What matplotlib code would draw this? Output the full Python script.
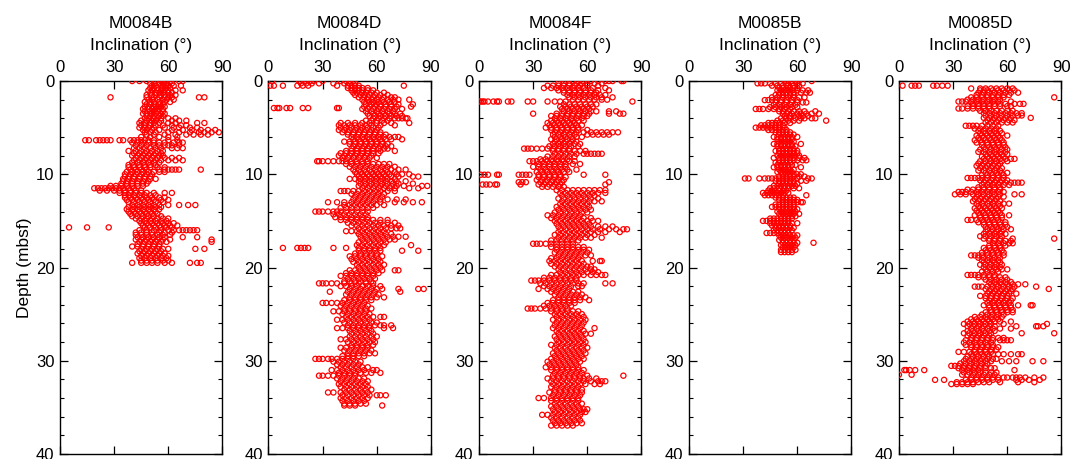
import matplotlib
matplotlib.use("Agg")
import matplotlib.pyplot as plt
from matplotlib.ticker import MultipleLocator

plt.rcParams["font.family"] = ["Liberation Sans", "DejaVu Sans"]

# ---------------------------------------------------------------------------
# Paleomagnetic inclination (degrees) versus depth (mbsf) for five holes.
# Each depth level carries the list of inclinations measured around it.
# ---------------------------------------------------------------------------

holes = ["M0084B", "M0084D", "M0084F", "M0085B", "M0085D"]

depth_84B = [0.0, 0.25, 0.5, 0.75, 1.0, 1.25, 1.5, 1.75, 2.0, 2.25, 2.5, 2.75,
             3.0, 3.25, 3.5, 3.75, 4.0, 4.25, 4.5, 4.75, 5.0, 5.25, 5.5, 5.75,
             6.0, 6.35, 6.6, 6.9, 7.2, 7.5, 7.75, 8.0, 8.25, 8.5, 8.75, 9.0,
             9.25, 9.5, 9.75, 10.0, 10.25, 10.5, 10.75, 11.0, 11.25, 11.5,
             11.75, 12.0, 12.25, 12.5, 12.75, 13.0, 13.3, 13.5, 13.75, 14.0,
             14.25, 14.5, 14.75, 15.0, 15.25, 15.5, 15.7, 16.0, 16.25, 16.5,
             16.75, 17.0, 17.25, 17.5, 17.75, 18.0, 18.25, 18.5, 18.75, 19.0,
             19.25, 19.5]
incl_84B = [
    [40, 44, 48, 53, 56, 58, 61, 66, 68], [50, 52, 55, 57, 59, 62],
    [51, 53, 56, 58, 60, 63, 67], [50, 52, 54, 57, 59, 61],
    [49, 51, 54, 56, 58, 60, 64, 68], [50, 53, 55, 57, 60, 62],
    [48, 51, 53, 56, 58, 61, 64], [28, 48, 52, 55, 58, 60, 62, 77, 80],
    [49, 51, 54, 57, 59, 63], [47, 50, 52, 55, 58, 61],
    [48, 50, 53, 55, 57], [47, 49, 52, 54, 56, 58],
    [46, 49, 51, 53, 55, 57], [47, 50, 52, 54, 57],
    [46, 48, 51, 53, 56, 58], [48, 50, 52, 55, 57],
    [47, 49, 52, 54, 56, 60, 64], [45, 48, 51, 53, 56, 62, 66, 70],
    [44, 47, 50, 52, 55, 60, 64, 76, 80], [45, 47, 50, 53, 57, 62, 67, 70],
    [44, 47, 49, 52, 58, 63, 66, 72, 76], [46, 48, 51, 55, 62, 68, 73, 78, 82, 86],
    [47, 50, 53, 60, 66, 72, 77, 80, 84, 88], [48, 52, 58, 64, 70, 74, 78, 82],
    [45, 50, 55, 60, 65],
    [14, 16, 20, 22, 24, 26, 28, 33, 35, 39, 41, 43, 45, 47, 49, 52, 60, 65],
    [40, 43, 46, 49, 52, 55, 58, 63, 66, 68], [42, 45, 48, 52, 55, 58, 60, 62, 66],
    [41, 44, 47, 50, 53, 56, 62, 65, 68], [38, 42, 45, 48, 51, 54, 57],
    [41, 44, 47, 50, 53, 56], [40, 43, 46, 49, 52, 55, 57],
    [42, 45, 48, 51, 54, 58, 62, 66], [41, 44, 47, 50, 53, 56, 60, 64, 68],
    [40, 43, 46, 49, 52, 55], [38, 41, 44, 47, 50, 53],
    [38, 41, 44, 47, 50, 54, 58], [39, 42, 45, 48, 55, 58, 60, 62, 64, 66, 78],
    [37, 40, 43, 46, 49, 52, 55, 58], [36, 39, 42, 45, 48, 51],
    [36, 38, 41, 44, 47, 50], [35, 38, 41, 44, 47, 50, 53],
    [35, 37, 40, 43, 46, 49], [34, 37, 40, 43, 46, 48],
    [28, 31, 34, 37, 40, 43, 46], [19, 21, 23, 25, 27, 29, 31, 33, 35, 38, 41],
    [22, 26, 30, 33, 36, 39, 42, 45], [33, 36, 39, 42, 45, 48, 52, 58, 62],
    [36, 38, 41, 44, 47, 50, 53], [36, 39, 42, 45, 48, 51, 55, 58],
    [37, 40, 43, 46, 49, 52, 56, 60], [38, 41, 44, 47, 50, 53, 57],
    [40, 43, 46, 49, 52, 55, 60, 66, 71, 75], [38, 41, 44, 47, 50, 53, 56],
    [37, 40, 43, 46, 49, 52, 55], [38, 41, 44, 47, 50, 53],
    [39, 42, 45, 48, 51, 54], [40, 43, 46, 49, 52, 56],
    [42, 45, 48, 51, 54, 57, 60], [44, 47, 50, 53, 56, 59],
    [45, 48, 51, 54, 57, 60, 63], [46, 49, 52, 55, 58, 61, 65],
    [5, 15, 27, 47, 50, 53, 56, 59, 62],
    [44, 48, 52, 56, 60, 63, 66, 68, 70, 72, 74, 76],
    [42, 45, 48, 51, 55, 58, 62], [42, 45, 48, 51, 54, 57, 61],
    [43, 46, 49, 52, 55, 58, 68, 76], [42, 45, 48, 51, 54, 57, 61, 84],
    [44, 47, 50, 53, 56, 59, 84], [43, 46, 49, 52, 55],
    [40, 43, 46, 49, 52, 55], [45, 48, 51, 54, 57, 60, 75, 80],
    [44, 47, 50, 53, 56], [43, 46, 49, 52, 55, 58],
    [45, 48, 51, 54, 57, 60], [44, 47, 50, 53, 56, 59],
    [45, 48, 51, 54, 57, 60], [40, 45, 48, 51, 54, 58, 62, 72, 76, 78],
]

depth_84D = [0.0, 0.25, 0.5, 0.75, 1.0, 1.25, 1.5, 1.75, 2.0, 2.25, 2.5, 2.75,
             2.9, 3.0, 3.25, 3.5, 3.75, 4.0, 4.25, 4.5, 4.75, 5.0, 5.25, 5.5,
             5.75, 6.0, 6.25, 6.5, 6.75, 7.0, 7.25, 7.5, 7.75, 8.0, 8.25, 8.6,
             8.9, 9.2, 9.5, 9.75, 10.0, 10.25, 10.5, 10.75, 11.0, 11.25, 11.5,
             11.8, 12.1, 12.4, 12.7, 13.0, 13.3, 13.6, 14.0, 14.3, 14.6, 14.9,
             15.2, 15.5, 15.8, 16.1, 16.4, 16.7, 17.0, 17.3, 17.6, 17.9, 18.2,
             18.5, 18.8, 19.1, 19.4, 19.7, 20.0, 20.3, 20.6, 20.9, 21.2, 21.5,
             21.7, 22.0, 22.3, 22.6, 22.9, 23.2, 23.5, 23.8, 24.1, 24.4, 24.7,
             25.0, 25.3, 25.6, 25.9, 26.2, 26.5, 26.8, 27.1, 27.4, 27.7, 28.0,
             28.3, 28.6, 28.9, 29.2, 29.5, 29.8, 30.1, 30.4, 30.7, 31.0, 31.3,
             31.6, 31.9, 32.2, 32.5, 32.8, 33.1, 33.4, 33.7, 34.0, 34.3, 34.6,
             34.8]
incl_84D = [
    [2, 17, 20, 23, 25, 30, 40, 43, 45, 47], [18, 21, 24, 28, 36, 42, 45, 48],
    [1, 3, 8, 16, 19, 22, 38, 44, 46, 48, 50, 75], [44, 46, 48, 50, 52, 55],
    [46, 48, 50, 52, 55, 58], [47, 49, 52, 54, 57, 60, 64],
    [48, 51, 53, 56, 59, 62, 66], [50, 53, 55, 58, 61, 64, 68, 70],
    [52, 55, 57, 60, 63, 66, 69, 72, 78], [53, 56, 58, 61, 64, 67, 70],
    [54, 57, 60, 62, 65, 68, 72, 80], [53, 56, 59, 62, 65, 68, 71, 79],
    [3, 5, 6, 10, 12, 19, 22, 38, 39], [52, 55, 58, 61, 64, 67, 70, 74],
    [54, 57, 60, 63, 66, 69], [55, 58, 61, 64, 67, 70, 73],
    [56, 59, 62, 65, 68, 71, 74], [58, 61, 64, 67, 70, 72, 74, 76, 77],
    [54, 57, 60, 63, 66], [40, 44, 48, 52, 56, 60, 64, 68, 78],
    [39, 42, 45, 48, 51, 54, 57, 62, 70], [40, 43, 46, 49, 52, 55, 58, 61],
    [39, 42, 45, 48, 51, 54, 57, 60], [41, 44, 47, 50, 53, 56, 59, 62],
    [44, 47, 50, 53, 56, 59, 62, 65], [46, 49, 52, 55, 58, 61, 64, 67, 70, 72],
    [47, 50, 53, 56, 59, 62, 65, 68, 74], [42, 45, 48, 51, 54, 57, 60, 63],
    [45, 48, 51, 54, 57, 60, 63, 66], [47, 50, 53, 56, 59, 62, 65, 68],
    [46, 49, 52, 55, 58, 61, 64, 66], [43, 46, 49, 52, 55, 58, 62, 70],
    [40, 43, 46, 49, 52, 55, 58, 61], [39, 42, 45, 48, 51, 54, 57],
    [41, 44, 47, 50, 53, 56, 60],
    [27, 28, 30, 33, 36, 39, 41, 43, 46, 49, 52, 55],
    [43, 46, 49, 52, 55, 58, 61, 64, 67], [45, 48, 51, 54, 57, 60, 63, 66, 70],
    [47, 50, 53, 56, 59, 62, 65, 68, 72, 76], [48, 51, 54, 57, 60, 63, 66, 70],
    [49, 52, 55, 58, 61, 64, 67, 71, 74, 78],
    [50, 53, 56, 59, 62, 65, 68, 72, 80, 83],
    [45, 48, 51, 54, 57, 60, 63, 66, 70], [50, 53, 56, 59, 62, 65, 68, 71, 76],
    [51, 54, 57, 60, 63, 66, 69, 72, 80],
    [50, 53, 56, 59, 62, 65, 68, 71, 75, 85, 88],
    [52, 55, 58, 61, 64, 67, 70, 78, 83],
    [40, 42, 44, 47, 50, 53, 56, 59, 62, 66, 70],
    [46, 49, 52, 55, 58, 61, 64], [48, 51, 54, 57, 60, 63],
    [47, 50, 53, 56, 59, 62, 66, 71, 76],
    [33, 38, 42, 46, 49, 52, 55, 58, 62, 70, 75, 80, 85],
    [42, 45, 48, 51, 54, 57, 60, 64], [40, 43, 46, 49, 52, 55, 58],
    [26, 28, 30, 33, 36, 38, 40, 43, 46, 49, 52, 55],
    [36, 39, 42, 45, 48, 51, 54], [37, 40, 43, 46, 49, 52, 55],
    [40, 43, 46, 49, 52, 55, 58, 62, 66], [44, 47, 50, 53, 56, 59, 62, 66, 70],
    [46, 49, 52, 55, 58, 61, 64, 68, 72], [50, 53, 56, 59, 62, 65, 68, 71, 73],
    [43, 46, 49, 52, 55, 58, 61, 64], [50, 53, 56, 59, 62, 65, 68],
    [51, 54, 57, 60, 63, 66, 69, 72, 76], [52, 55, 58, 61, 64, 67, 70],
    [50, 53, 56, 59, 62, 65], [49, 52, 55, 58, 61, 64, 79],
    [8, 16, 18, 20, 22, 36, 43, 50, 53, 56, 59, 62],
    [50, 53, 56, 59, 62, 74, 83], [48, 51, 54, 57, 60],
    [45, 48, 51, 54, 57, 60, 63], [46, 49, 52, 55, 58, 61],
    [47, 50, 53, 56, 59, 62], [49, 52, 55, 58, 61, 64],
    [50, 53, 56, 59, 62], [45, 48, 51, 54, 57, 60, 63, 70, 72],
    [43, 46, 49, 52, 55, 58, 61], [40, 43, 46, 49, 52, 55, 58],
    [44, 47, 50, 53, 56, 59], [42, 45, 48, 51, 54, 57],
    [28, 30, 32, 35, 38, 42, 46, 50, 54, 58], [40, 43, 46, 49, 52, 55, 58, 62],
    [45, 48, 51, 54, 57, 60, 63, 72, 83, 86], [34, 44, 47, 50, 53, 56, 59, 73],
    [43, 46, 49, 52, 55, 58, 61], [45, 48, 51, 54, 57, 60, 64],
    [42, 45, 48, 51, 54, 57], [30, 32, 35, 38, 41, 44, 47, 50, 53],
    [40, 43, 46, 49, 52, 55], [42, 45, 48, 51, 54, 57],
    [36, 39, 42, 45, 48, 51, 54], [41, 44, 47, 50, 53, 56],
    [43, 46, 49, 52, 55, 58, 62, 64], [38, 41, 44, 47, 50, 53, 56],
    [42, 45, 48, 51, 54, 57, 60], [44, 47, 50, 53, 56, 59, 62, 64, 68],
    [38, 41, 44, 47, 50, 53, 56, 64, 69], [45, 48, 51, 54, 57],
    [46, 49, 52, 55, 58], [45, 48, 51, 54, 57, 60],
    [40, 43, 46, 49, 52, 55, 58], [44, 47, 50, 53, 56, 59],
    [46, 49, 52, 55, 58], [40, 43, 46, 49, 52, 55],
    [42, 45, 48, 51, 54, 57], [44, 47, 50, 53, 56, 59],
    [41, 44, 47, 50, 53], [26, 28, 30, 33, 35, 38, 41, 44, 47],
    [36, 39, 42, 45, 48, 51], [38, 41, 44, 47, 50],
    [40, 43, 46, 49, 52, 55], [35, 38, 41, 44, 47, 50, 53, 58, 60],
    [39, 42, 45, 48, 51, 54, 57, 62], [28, 30, 33, 36, 39, 42, 45, 48],
    [38, 41, 44, 47, 50, 53], [40, 43, 46, 49, 52, 55],
    [39, 42, 45, 48, 51, 54], [40, 43, 46, 49, 52, 55],
    [42, 45, 48, 51, 54, 57], [33, 36, 40, 43, 46, 49, 52, 55],
    [41, 44, 47, 50, 53, 56, 60, 62, 65], [40, 43, 46, 49, 52, 55],
    [41, 44, 47, 50, 53], [42, 45, 48, 51, 54], [42, 45, 48, 63],
]

depth_84F = [0.0, 0.25, 0.5, 0.75, 1.0, 1.25, 1.5, 1.75, 2.0, 2.2, 2.5, 2.75,
             3.0, 3.25, 3.5, 3.75, 4.0, 4.25, 4.5, 4.75, 5.0, 5.25, 5.5, 5.75,
             6.0, 6.25, 6.5, 6.75, 7.0, 7.25, 7.5, 7.8, 8.1, 8.4, 8.6, 8.9,
             9.2, 9.5, 9.75, 10.05, 10.3, 10.6, 10.85, 11.1, 11.35, 11.7, 12.0,
             12.3, 12.6, 12.9, 13.2, 13.5, 13.8, 14.1, 14.4, 14.7, 15.0, 15.3,
             15.6, 15.9, 16.2, 16.5, 16.8, 17.1, 17.45, 17.8, 18.1, 18.4, 18.7,
             19.0, 19.3, 19.6, 19.9, 20.2, 20.5, 20.8, 21.1, 21.4, 21.7, 22.0,
             22.3, 22.6, 22.9, 23.2, 23.5, 23.8, 24.1, 24.4, 24.7, 25.0, 25.3,
             25.6, 25.9, 26.2, 26.5, 26.8, 27.1, 27.4, 27.7, 28.0, 28.3, 28.6,
             28.9, 29.2, 29.5, 29.8, 30.1, 30.4, 30.7, 31.0, 31.3, 31.6, 31.9,
             32.2, 32.5, 32.8, 33.1, 33.4, 33.7, 34.0, 34.3, 34.6, 34.9, 35.2,
             35.5, 35.8, 36.1, 36.4, 36.7, 36.95]
incl_84F = [
    [48, 52, 55, 58, 62, 66, 70, 72, 74, 79, 80], [44, 47, 50, 54, 57, 60, 64, 68],
    [38, 41, 44, 47, 50, 53, 56, 60, 66], [36, 40, 43, 46, 49, 52, 55, 58, 63, 70],
    [44, 47, 50, 53, 56, 59, 62, 66, 72], [47, 50, 53, 56, 59, 62, 65],
    [49, 52, 55, 58, 61, 64, 67, 70], [50, 53, 56, 59, 62, 65, 68, 74],
    [52, 55, 58, 61, 64, 68, 71],
    [0, 1, 2, 3, 5, 8, 10, 11, 16, 18, 27, 30, 38, 42, 45, 48, 85],
    [47, 50, 53, 56, 59, 62, 65], [45, 48, 51, 54, 57, 60, 63],
    [46, 49, 52, 55, 58, 61], [47, 50, 53, 56, 59, 62, 65, 72, 76],
    [30, 43, 46, 49, 52, 55, 58, 61, 72, 78, 80], [40, 43, 46, 49, 52, 55, 58, 60],
    [42, 45, 48, 51, 54, 57], [40, 43, 46, 49, 52, 55, 58],
    [38, 41, 44, 47, 50, 53], [39, 42, 45, 48, 51, 54, 57],
    [37, 40, 43, 46, 49, 52, 55], [40, 43, 46, 49, 52, 55, 60],
    [42, 45, 48, 51, 54, 58, 62, 65, 68, 71, 74, 77],
    [41, 44, 47, 50, 53, 60, 63, 66, 69, 72], [42, 45, 48, 51, 54, 57],
    [40, 43, 46, 49, 52], [42, 45, 48, 51, 54], [41, 44, 47, 50, 53, 56],
    [39, 42, 45, 48, 51, 55], [25, 27, 29, 32, 35, 38, 41, 44, 47, 50],
    [41, 44, 47, 50, 53, 56, 59], [42, 45, 48, 51, 54, 58, 60, 62, 64, 66, 68],
    [38, 41, 44, 47, 50, 53], [34, 37, 40, 43, 46, 49],
    [28, 30, 32, 35, 38, 41, 44, 47, 50, 53], [33, 36, 39, 42, 45, 48, 52, 56],
    [30, 33, 36, 39, 42, 45, 48], [34, 37, 40, 43, 46, 49, 54],
    [32, 35, 38, 41, 44, 47, 50],
    [1, 3, 5, 10, 11, 22, 24, 26, 28, 33, 36, 39, 42, 45, 58, 70],
    [33, 36, 39, 42, 45, 48], [32, 35, 38, 41, 44, 47],
    [22, 24, 26, 34, 37, 40, 43, 46, 72],
    [2, 4, 6, 9, 10, 23, 33, 36, 39, 42, 45, 70], [35, 38, 41, 44, 47],
    [43, 46, 49, 52, 55, 58, 61, 64, 67, 70], [45, 48, 51, 54, 57, 60, 63, 66, 70],
    [46, 49, 52, 55, 58, 61, 64], [44, 47, 50, 53, 56, 59, 62, 66],
    [46, 49, 52, 55, 58, 61, 64, 68], [45, 48, 51, 54, 57, 60],
    [43, 46, 49, 52, 55, 58, 61], [44, 47, 50, 53, 56, 59, 62],
    [42, 45, 48, 51, 54, 57, 60], [38, 41, 44, 47, 50, 53, 56],
    [40, 43, 46, 49, 52, 55, 58, 62], [42, 45, 48, 51, 54, 57, 60, 63, 66],
    [43, 46, 49, 52, 55, 58, 61], [44, 47, 50, 53, 56, 59, 62, 66, 70, 74],
    [45, 48, 51, 54, 57, 60, 63, 67, 72, 76, 80, 82],
    [44, 47, 50, 53, 56, 59, 62, 66, 70, 78], [42, 45, 48, 51, 54, 57, 60, 64],
    [44, 47, 50, 53, 56, 59, 62, 68], [40, 43, 46, 49, 52, 55],
    [30, 32, 34, 37, 40, 43, 46, 49, 52], [40, 43, 46, 49, 52, 55, 58],
    [43, 46, 49, 52, 55, 58, 61], [42, 45, 48, 51, 54, 57, 60],
    [44, 47, 50, 53, 56, 59, 62], [40, 43, 46, 49, 52, 55],
    [39, 42, 45, 48, 51, 54, 57, 63, 67, 68], [40, 43, 46, 49, 52, 55, 58],
    [42, 45, 48, 51, 54, 57, 60, 62], [44, 47, 50, 53, 56, 59, 62, 64],
    [45, 48, 51, 54, 57, 60, 63, 66], [40, 43, 46, 49, 52, 55, 58, 62, 65, 68, 70],
    [36, 39, 42, 45, 48, 51, 54], [29, 31, 33, 36, 39, 42, 45, 48, 51, 54],
    [34, 37, 40, 43, 46, 49, 52, 55, 58, 70, 74], [36, 39, 42, 45, 48, 51, 55, 57],
    [33, 38, 41, 44, 47, 50], [40, 43, 46, 49, 52, 55],
    [42, 45, 48, 51, 54, 57], [44, 47, 50, 53, 56, 59],
    [41, 44, 47, 50, 53, 56, 61], [38, 41, 44, 47, 50, 53],
    [36, 39, 42, 45, 48, 51], [27, 29, 31, 34, 37, 40, 43, 46, 49],
    [40, 43, 46, 49, 52, 55], [42, 45, 48, 51, 54, 57],
    [43, 46, 49, 52, 55, 58], [41, 44, 47, 50, 53, 56, 59],
    [43, 46, 49, 52, 55, 58], [42, 45, 48, 51, 54, 57],
    [41, 44, 47, 50, 53, 56, 64], [43, 46, 49, 52, 55, 58],
    [44, 47, 50, 53, 56, 59, 62], [42, 45, 48, 51, 54, 57],
    [43, 46, 49, 52, 55, 58], [44, 47, 50, 53, 56, 59],
    [40, 43, 46, 49, 52, 55, 58], [42, 45, 48, 51, 54, 57, 60],
    [43, 46, 49, 52, 55, 58], [41, 44, 47, 50, 53, 56, 59],
    [42, 45, 48, 51, 54, 57], [40, 43, 46, 49, 52, 55, 58],
    [38, 41, 44, 47, 50, 53, 56], [39, 42, 45, 48, 51, 54],
    [37, 40, 43, 46, 49, 52, 55], [40, 43, 46, 49, 52, 55, 58],
    [42, 45, 48, 51, 54, 57], [41, 44, 47, 50, 53, 56, 60, 80],
    [38, 41, 44, 47, 50, 53, 56, 58, 61, 65],
    [40, 43, 46, 49, 52, 55, 58, 62, 66, 68, 70],
    [41, 44, 47, 50, 53, 56, 59, 64, 67], [40, 43, 46, 49, 52, 55],
    [42, 45, 48, 51, 54, 57], [39, 42, 45, 48, 51, 54, 57],
    [41, 44, 47, 50, 53, 56], [33, 36, 40, 43, 46, 49, 52, 55],
    [40, 43, 46, 49, 52, 55], [42, 45, 48, 51, 54, 57],
    [40, 43, 46, 49, 52, 55], [41, 44, 47, 50, 53, 56, 58, 60],
    [42, 45, 48, 51, 54, 57, 59], [35, 38, 41, 44, 47, 50, 53, 56],
    [40, 43, 46, 49, 52, 55], [41, 44, 47, 50, 53, 56],
    [42, 45, 48, 51, 54, 57], [40, 43, 46, 49, 52],
]

depth_85B = [0.0, 0.25, 0.5, 0.75, 1.0, 1.25, 1.5, 1.75, 2.05, 2.3, 2.55, 2.8,
             3.0, 3.25, 3.5, 3.75, 4.0, 4.25, 4.5, 4.75, 5.0, 5.25, 5.5, 5.75,
             6.0, 6.25, 6.5, 6.75, 7.0, 7.25, 7.5, 7.75, 8.0, 8.25, 8.5, 8.75,
             9.0, 9.25, 9.5, 9.75, 10.0, 10.25, 10.45, 10.7, 11.0, 11.25, 11.5,
             11.75, 12.0, 12.25, 12.5, 12.75, 13.0, 13.25, 13.5, 13.75, 14.0,
             14.25, 14.5, 14.75, 15.0, 15.25, 15.5, 15.75, 16.0, 16.3, 16.55,
             16.8, 17.05, 17.35, 17.6, 17.85, 18.1, 18.35]
incl_85B = [
    [53, 55, 57, 59, 61, 68], [38, 40, 42, 45, 48, 51, 54, 57, 60, 63],
    [46, 49, 52, 55, 58, 61], [50, 52, 54, 56, 58, 60],
    [49, 51, 53, 55, 57, 60, 63, 66], [50, 52, 54, 56, 58, 62, 65, 67],
    [48, 50, 52, 54, 56, 58], [46, 49, 52, 55, 58, 61, 64],
    [42, 44, 46, 48, 51, 54, 57, 60], [48, 51, 54, 57, 60, 63, 65],
    [47, 50, 53, 56, 59], [45, 48, 51, 54, 57, 60],
    [37, 39, 41, 44, 47, 50, 53, 56], [50, 52, 55, 58, 61, 64, 70],
    [52, 54, 57, 60, 62, 65, 68, 72], [53, 56, 58, 61, 63, 66],
    [51, 54, 56, 59, 62, 64, 68, 70], [49, 52, 55, 58, 61, 76],
    [44, 46, 48, 50, 53, 56], [40, 42, 44, 46, 48, 50, 52],
    [37, 39, 41, 43, 45, 48, 50, 53], [44, 46, 48, 50, 52, 54],
    [48, 50, 52, 54, 56], [50, 52, 54, 56, 58],
    [47, 49, 51, 53, 55, 57, 60], [49, 51, 53, 55, 57],
    [50, 52, 54, 56, 58], [47, 49, 51, 53, 55, 57, 62],
    [49, 51, 53, 55, 57, 59], [50, 52, 54, 56, 58],
    [48, 50, 52, 54, 56, 58, 60], [50, 52, 54, 56, 58, 60],
    [49, 51, 53, 55, 57, 59, 61], [47, 50, 52, 54, 56, 58, 61, 64],
    [50, 52, 54, 56, 58, 60, 63, 65], [48, 50, 52, 54, 56],
    [49, 51, 53, 55, 57, 59], [47, 49, 51, 53, 55, 62],
    [50, 52, 54, 56, 58], [49, 51, 53, 55, 57],
    [52, 54, 56, 58, 60, 62], [50, 52, 54, 56, 58, 61, 64],
    [31, 33, 39, 42, 44, 46, 48, 50, 52, 54, 57, 60, 66, 68],
    [48, 50, 52, 54, 56, 58, 62, 65], [50, 52, 54, 56, 58, 60],
    [47, 49, 51, 53, 55, 57, 59], [45, 47, 50, 53, 55, 58, 61],
    [44, 46, 48, 50, 52, 54], [41, 43, 45, 47, 49, 51, 53, 55],
    [42, 44, 46, 48, 50, 52, 65], [48, 50, 52, 54, 56, 58],
    [50, 52, 54, 56, 58, 60], [52, 54, 56, 58, 60, 62, 63],
    [48, 50, 52, 54, 56, 58], [46, 48, 50, 52, 54, 56, 58],
    [50, 52, 54, 56, 58, 60], [49, 51, 53, 55, 57, 59],
    [50, 52, 54, 56, 58, 61], [51, 53, 55, 57, 59],
    [45, 47, 49, 51, 53, 55, 57], [41, 43, 45, 47, 49, 51, 53, 55],
    [45, 47, 49, 51, 53, 55, 57, 60], [46, 48, 50, 52, 54, 56],
    [48, 50, 52, 54, 56, 58], [47, 49, 51, 53, 55, 57],
    [43, 45, 47, 49, 51, 53, 55], [50, 52, 54, 56, 58, 60],
    [51, 53, 55, 57, 59], [50, 52, 54, 56, 58],
    [52, 54, 56, 58, 60, 69], [51, 53, 55, 57, 59],
    [52, 54, 56, 58], [51, 53, 55, 57, 59], [51, 53, 55, 57],
]

depth_85D = [0.5, 0.8, 1.0, 1.25, 1.5, 1.75, 2.0, 2.2, 2.45, 2.7, 2.95, 3.2,
             3.45, 3.7, 3.95, 4.2, 4.45, 4.8, 5.1, 5.35, 5.6, 5.85, 6.1, 6.35,
             6.6, 6.85, 7.1, 7.35, 7.6, 7.85, 8.1, 8.35, 8.6, 8.85, 9.1, 9.35,
             9.6, 9.85, 10.1, 10.4, 10.65, 10.9, 11.15, 11.4, 11.65, 11.9,
             12.15, 12.4, 12.65, 12.9, 13.15, 13.4, 13.65, 13.9, 14.15, 14.4,
             14.65, 14.9, 15.15, 15.4, 15.65, 15.9, 16.15, 16.4, 16.65, 16.9,
             17.15, 17.4, 17.65, 17.9, 18.15, 18.4, 18.7, 18.95, 19.2, 19.45,
             19.7, 19.95, 20.2, 20.45, 20.8, 21.05, 21.3, 21.55, 21.8, 22.05,
             22.3, 22.55, 22.8, 23.05, 23.3, 23.55, 23.8, 24.05, 24.3, 24.55,
             24.8, 25.05, 25.3, 25.55, 25.8, 26.05, 26.3, 26.55, 26.8, 27.05,
             27.3, 27.55, 27.8, 28.05, 28.3, 28.55, 28.8, 29.05, 29.3, 29.55,
             29.8, 30.05, 30.3, 30.55, 30.8, 31.0, 31.25, 31.5, 31.8, 32.05,
             32.3, 32.5]
incl_85D = [
    [2, 7, 9, 11, 19, 21, 24, 27], [40, 45, 48, 51, 54, 57, 60, 63],
    [45, 47, 49, 52, 55, 58, 61, 64], [44, 47, 50, 53, 56, 59, 62, 66],
    [43, 46, 49, 52, 55, 58, 61], [40, 43, 46, 49, 52, 55, 58, 86],
    [38, 41, 44, 47, 50, 53, 56], [33, 35, 37, 40, 43, 46, 49, 52, 55, 62],
    [41, 44, 47, 50, 53, 56, 59, 64, 67, 69], [38, 41, 44, 47, 50, 53, 56, 60, 62],
    [33, 35, 38, 41, 44, 47, 50], [45, 48, 51, 54, 57, 60, 63],
    [47, 50, 53, 56, 59, 62, 65, 68], [48, 51, 54, 57, 60, 63, 66, 68],
    [47, 50, 53, 56, 59, 62, 73], [49, 52, 55, 58, 61, 64],
    [48, 51, 54, 57, 60, 63], [37, 39, 41, 43, 46, 49, 52, 55],
    [42, 45, 48, 51, 54], [44, 47, 50, 53, 56], [45, 48, 51, 54, 57],
    [43, 46, 49, 52, 55, 60], [44, 47, 50, 53, 56], [42, 45, 48, 51, 54, 57],
    [43, 46, 49, 52, 55, 58], [46, 49, 52, 55, 58], [47, 50, 53, 56, 59],
    [45, 48, 51, 54, 57, 60], [44, 47, 50, 53, 56, 59], [48, 51, 54, 57, 60],
    [46, 49, 52, 55, 58], [47, 50, 53, 56, 59, 62, 64],
    [45, 48, 51, 54, 57, 60], [44, 47, 50, 53, 56], [43, 46, 49, 52, 55],
    [45, 48, 51, 54, 57], [44, 47, 50, 53, 56], [48, 51, 54, 57, 60],
    [46, 49, 52, 55, 58], [38, 40, 42, 44, 46, 49, 52, 55, 58],
    [45, 48, 51, 54, 57, 60], [47, 50, 53, 56, 59, 62, 64, 66, 68],
    [46, 49, 52, 55, 58, 61], [44, 47, 50, 53, 56],
    [38, 41, 44, 47, 50, 53, 56], [33, 35, 37, 40, 43, 46, 49, 52, 55, 58],
    [31, 34, 37, 41, 44, 47, 50, 53, 56, 64, 68], [43, 46, 49, 52, 55, 58],
    [42, 45, 48, 51, 54], [41, 44, 47, 50, 53, 56],
    [43, 46, 49, 52, 55, 58, 61], [44, 47, 50, 53, 56],
    [42, 45, 48, 51, 54, 57], [43, 46, 49, 52, 55], [44, 47, 50, 53, 56],
    [42, 45, 48, 51, 54, 57, 61], [45, 48, 51, 54, 57],
    [38, 40, 43, 46, 49, 52, 55], [44, 47, 50, 53, 56, 59],
    [47, 50, 53, 56, 59], [48, 51, 54, 57, 60], [49, 52, 55, 58, 62],
    [48, 51, 54, 57], [47, 50, 53, 56, 59], [45, 48, 51, 54, 57],
    [47, 50, 53, 56, 63, 86], [50, 53, 56, 59, 62], [52, 55, 58, 61, 63],
    [50, 53, 56, 59], [47, 50, 53, 56], [48, 51, 54, 57],
    [46, 49, 52, 55, 58], [40, 42, 44, 46, 49, 52, 55, 58],
    [44, 47, 50, 53, 56], [46, 49, 52, 55], [47, 50, 53, 56],
    [45, 48, 51, 54, 57], [47, 50, 53, 56], [48, 51, 54, 57, 60],
    [46, 49, 52, 55], [38, 40, 42, 44, 47, 50, 53],
    [44, 47, 50, 53, 56, 59], [48, 51, 54, 57, 60], [50, 53, 56, 59, 62],
    [51, 54, 57, 60, 63, 66, 70], [42, 44, 46, 49, 52, 55, 58, 61, 64, 76],
    [48, 51, 54, 57, 60, 63, 83], [50, 53, 56, 59, 62],
    [49, 52, 55, 58, 61, 65], [45, 48, 51, 54, 57, 60],
    [48, 51, 54, 57, 60, 63], [50, 53, 56, 59, 62], [49, 52, 55, 58, 61],
    [47, 50, 53, 56, 59, 62, 66, 73, 74], [50, 53, 56, 59, 62],
    [51, 54, 57, 60, 63], [48, 51, 54, 57, 60, 63], [46, 49, 52, 55, 58],
    [42, 45, 48, 51, 54, 57], [40, 43, 46, 49, 52, 55],
    [38, 41, 44, 47, 50, 53, 56, 62], [36, 39, 42, 45, 48, 51, 58, 82],
    [38, 41, 44, 47, 50, 53, 65, 76, 77, 80], [40, 43, 46, 49, 52, 56, 62],
    [38, 41, 44, 47, 50, 53], [36, 39, 42, 45, 48, 51, 68, 86],
    [38, 41, 44, 47, 50], [40, 43, 46, 49, 52, 55, 58],
    [37, 40, 43, 46, 49, 52, 56, 58, 60, 62], [36, 39, 42, 45, 48, 51],
    [37, 40, 43, 46, 49, 52], [40, 43, 46, 49, 52, 55], [42, 45, 48, 51, 54],
    [33, 36, 39, 42, 45, 48, 51], [40, 43, 46, 49, 52, 55, 58, 62, 66, 68],
    [38, 41, 44, 47, 50], [37, 40, 43, 46, 49, 52, 54],
    [36, 39, 42, 45, 48, 51, 57, 61, 65, 74, 80], [34, 37, 40, 43, 46, 49],
    [29, 31, 33, 36, 39, 42, 45, 48], [33, 36, 39, 42, 45, 48, 51, 53],
    [3, 4, 6, 9, 14, 35, 38, 41, 44, 64], [36, 39, 42, 45, 48, 51, 54],
    [0, 7, 35, 38, 41, 44, 47, 50, 53],
    [40, 43, 46, 49, 52, 55, 58, 60, 63, 65, 67, 70, 75, 80],
    [20, 25, 37, 40, 43, 46, 49, 52, 55, 65, 68, 72, 78],
    [32, 35, 38, 41, 44, 47, 50, 56, 66, 75], [29, 32, 35, 38, 41],
]

depths = [depth_84B, depth_84D, depth_84F, depth_85B, depth_85D]
inclinations = [incl_84B, incl_84D, incl_84F, incl_85B, incl_85D]

fig = plt.figure(figsize=(10.73, 4.59), dpi=100)

panel_left = [0.0559, 0.2502, 0.4464, 0.6421, 0.8378]
panel_width = 0.1514
panel_bottom = 0.0109
panel_height = 0.8126

for i, (name, dep, inc) in enumerate(zip(holes, depths, inclinations)):
    ax = fig.add_axes([panel_left[i], panel_bottom, panel_width, panel_height])
    xs, ys = [], []
    for d, vals in zip(dep, inc):
        xs.extend(vals)
        ys.extend([d] * len(vals))
    ax.scatter(xs, ys, s=14, facecolors="none", edgecolors="#ff0000",
               linewidths=0.9, zorder=3)

    ax.set_xlim(0, 90)
    ax.set_ylim(40, 0)
    ax.xaxis.set_major_locator(MultipleLocator(30))
    ax.yaxis.set_major_locator(MultipleLocator(10))
    ax.yaxis.set_minor_locator(MultipleLocator(2))
    ax.xaxis.tick_top()
    ax.tick_params(axis="both", which="major", direction="in", length=6,
                   width=0.9, labelsize=12, pad=4, top=True, bottom=True,
                   left=True, right=True, labeltop=True, labelbottom=False)
    ax.tick_params(axis="y", which="minor", direction="in", length=3,
                   width=0.8, left=True, right=True)
    for sp in ax.spines.values():
        sp.set_linewidth(1.0)

    ax.text(0.5, 1.155, name, transform=ax.transAxes, ha="center",
            va="center", fontsize=12.5)
    ax.text(0.5, 1.095, "Inclination (°)", transform=ax.transAxes,
            ha="center", va="center", fontsize=12.5)

    if i == 0:
        ax.set_ylabel("Depth (mbsf)", fontsize=12.5, labelpad=3)

fig.savefig("out.png", dpi=100)
